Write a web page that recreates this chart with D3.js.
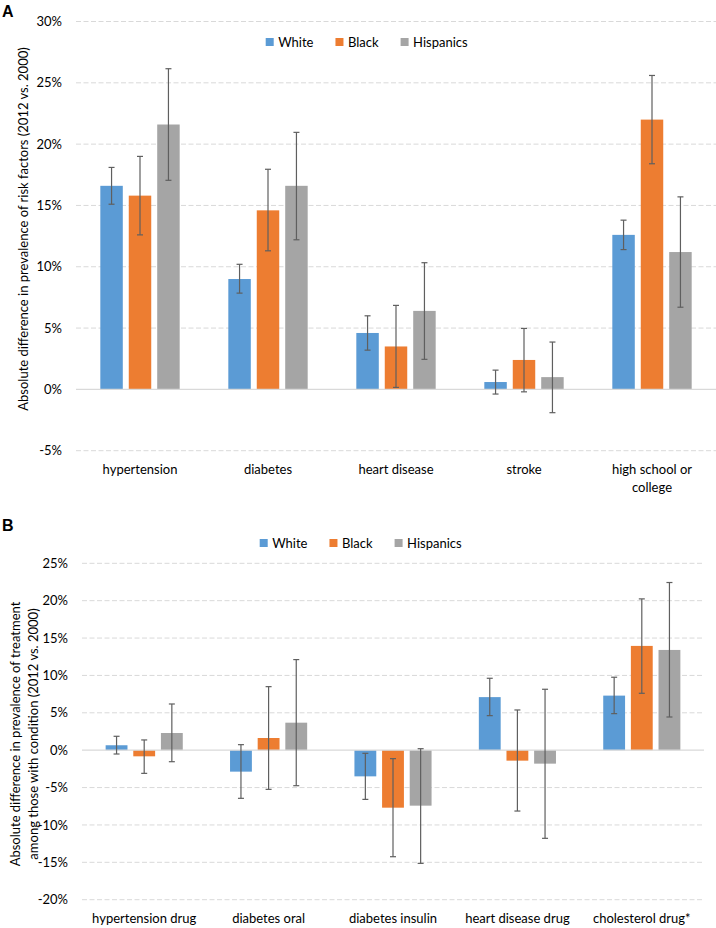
<!DOCTYPE html>
<html>
<head>
<meta charset="utf-8">
<script src="https://cdn.jsdelivr.net/npm/d3@7"></script>
<style>
  html, body { margin: 0; padding: 0; background: #fff; }
  svg { display: block; font-family: Lato, "Open Sans", sans-serif; }
</style>
</head>
<body>
<svg id="chart" width="716" height="928"></svg>
<script>
// ---------- DATA ----------
const seriesNames = ["White", "Black", "Hispanics"];
const seriesColors = ["#5B9BD5", "#ED7D31", "#A5A5A5"];

// Panel A
const categoriesA = ["hypertension", "diabetes", "heart disease", "stroke", "high school or\ncollege"];
const whiteA    = [16.6, 9.0, 4.6, 0.6, 12.6];
const whiteALo  = [15.1, 7.85, 3.2, -0.38, 11.4];
const whiteAHi  = [18.1, 10.2, 6.0, 1.57, 13.8];
const blackA    = [15.8, 14.6, 3.5, 2.4, 22.0];
const blackALo  = [12.6, 11.3, 0.16, -0.2, 18.4];
const blackAHi  = [19.0, 17.95, 6.85, 4.97, 25.6];
const hispA     = [21.6, 16.6, 6.4, 1.0, 11.2];
const hispALo   = [17.05, 12.2, 2.45, -1.9, 6.7];
const hispAHi   = [26.15, 20.96, 10.33, 3.86, 15.7];
const ticksA    = [-5, 0, 5, 10, 15, 20, 25, 30];

// Panel B
const categoriesB = ["hypertension drug", "diabetes oral", "diabetes insulin", "heart disease drug", "cholesterol drug*"];
const whiteB    = [0.66, -2.87, -3.5, 7.1, 7.3];
const whiteBLo  = [-0.51, -6.44, -6.58, 4.62, 4.89];
const whiteBHi  = [1.86, 0.74, -0.42, 9.62, 9.76];
const blackB    = [-0.82, 1.63, -7.69, -1.4, 13.95];
const blackBLo  = [-3.1, -5.24, -14.25, -8.14, 7.61];
const blackBHi  = [1.37, 8.5, -1.13, 5.38, 20.24];
const hispB     = [2.3, 3.68, -7.42, -1.8, 13.41];
const hispBLo   = [-1.54, -4.75, -15.14, -11.79, 4.44];
const hispBHi   = [6.18, 12.12, 0.2, 8.15, 22.43];
const ticksB    = [-20, -15, -10, -5, 0, 5, 10, 15, 20, 25];

// ---------- DRAW ----------
const svg = d3.select("#chart");
const FONT = 13;

function panel(cfg) {
  const g = svg.append("g");
  const x0 = d3.scaleBand().domain(cfg.categories).range([cfg.left, cfg.right])
    .paddingInner(1/3).paddingOuter(1/6);
  const x1 = d3.scaleBand().domain(seriesNames).range([0, x0.bandwidth()])
    .paddingInner(0.21).paddingOuter(0.105);
  const y = d3.scaleLinear().domain(cfg.domain).range([cfg.bottom, cfg.top]);

  // gridlines
  g.append("g").selectAll("line").data(cfg.ticks.filter(t => t !== 0)).join("line")
    .attr("x1", cfg.left).attr("x2", cfg.right)
    .attr("y1", d => y(d)).attr("y2", d => y(d))
    .attr("stroke", "#d9d9d9").attr("stroke-width", 1).attr("stroke-dasharray", "5,2.5");

  // y tick labels via axis
  const yAxis = d3.axisLeft(y).tickValues(cfg.ticks).tickFormat(d => d + "%").tickSize(0).tickPadding(14);
  const ya = g.append("g").attr("transform", `translate(${cfg.left},0)`).call(yAxis);
  ya.select(".domain").remove();
  ya.selectAll("text").attr("font-size", FONT).attr("fill", "#000").attr("font-family", "Lato");

  // bars
  const seriesData = cfg.series.map((s, i) => ({ name: seriesNames[i], color: seriesColors[i], ...s }));
  seriesData.forEach(s => {
    const sg = g.append("g");
    sg.selectAll("rect").data(cfg.categories.map((c, j) => ({ c, v: s.values[j] }))).join("rect")
      .attr("x", d => x0(d.c) + x1(s.name))
      .attr("width", x1.bandwidth())
      .attr("y", d => Math.min(y(d.v), y(0)))
      .attr("height", d => Math.abs(y(d.v) - y(0)))
      .attr("fill", s.color);
  });

  // zero line
  g.append("line").attr("x1", cfg.left).attr("x2", cfg.right)
    .attr("y1", y(0)).attr("y2", y(0)).attr("stroke", "#d9d9d9").attr("stroke-width", 1.2);

  // error bars
  seriesData.forEach(s => {
    const eg = g.append("g").attr("stroke", "#5f5f5f").attr("stroke-width", 1.2);
    cfg.categories.forEach((c, j) => {
      const cx = x0(c) + x1(s.name) + x1.bandwidth() / 2;
      const lo = y(s.lo[j]), hi = y(s.hi[j]);
      eg.append("line").attr("x1", cx).attr("x2", cx).attr("y1", lo).attr("y2", hi);
      eg.append("line").attr("x1", cx - 3).attr("x2", cx + 3).attr("y1", lo).attr("y2", lo);
      eg.append("line").attr("x1", cx - 3).attr("x2", cx + 3).attr("y1", hi).attr("y2", hi);
    });
  });

  // category axis
  const xAxis = d3.axisBottom(x0).tickSize(0).tickPadding(0).tickFormat("");
  const xa = g.append("g").attr("transform", `translate(0,${cfg.bottom})`).call(xAxis);
  xa.select(".domain").remove();
  xa.selectAll(".tick").each(function(d) {
    const lines = d.split("\n");
    const t = d3.select(this).append("text")
      .attr("font-size", FONT).attr("fill", "#000").attr("text-anchor", "middle")
      .attr("font-family", "Lato");
    lines.forEach((ln, k) => {
      t.append("tspan").attr("x", 0).attr("y", 19 + k * 18).attr("dy", "0.35em").text(ln);
    });
  });

  // y title
  const titleLines = cfg.title;
  const tg = g.append("text").attr("font-size", FONT).attr("fill", "#000").attr("text-anchor", "middle")
    .attr("font-family", "Lato")
    .attr("transform", `translate(0,${cfg.titleY}) rotate(-90)`);
  titleLines.forEach((ln, k) => {
    tg.append("tspan").attr("x", 0).attr("y", cfg.titleX[k]).attr("dy", "0.35em").text(ln);
  });

  // panel letter
  g.append("text").attr("x", 2).attr("y", cfg.letterY).attr("font-size", 16).attr("font-weight", "bold")
    .attr("font-family", "Liberation Sans, Arial").text(cfg.letter);

  // legend
  const lg = g.append("g");
  let lx = cfg.legendX;
  seriesNames.forEach((n, i) => {
    lg.append("rect").attr("x", lx).attr("y", cfg.legendY - 4).attr("width", 8).attr("height", 8)
      .attr("fill", seriesColors[i]);
    const t = lg.append("text").attr("x", lx + 12.5).attr("y", cfg.legendY).attr("dy", "0.35em")
      .attr("font-size", FONT).attr("font-family", "Lato").attr("fill", "#000").text(n);
    lx += 12.5 + t.node().getComputedTextLength() + 22;
  });
}

panel({
  letter: "A", letterY: 17,
  categories: categoriesA,
  series: [
    { values: whiteA, lo: whiteALo, hi: whiteAHi },
    { values: blackA, lo: blackALo, hi: blackAHi },
    { values: hispA, lo: hispALo, hi: hispAHi }
  ],
  domain: [-5, 30], ticks: ticksA,
  left: 76, right: 716, top: 21.5, bottom: 450.7,
  title: ["Absolute difference in prevalence of risk factors (2012 vs. 2000)"],
  titleX: [23], titleY: 229,
  legendX: 265.7, legendY: 42
});

panel({
  letter: "B", letterY: 531,
  categories: categoriesB,
  series: [
    { values: whiteB, lo: whiteBLo, hi: whiteBHi },
    { values: blackB, lo: blackBLo, hi: blackBHi },
    { values: hispB, lo: hispBLo, hi: hispBHi }
  ],
  domain: [-20, 25], ticks: ticksB,
  left: 82, right: 704, top: 563.3, bottom: 899.7,
  title: ["Absolute difference in prevalence of treatment", "among those with condition (2012 vs. 2000)"],
  titleX: [15, 33], titleY: 734,
  legendX: 259.7, legendY: 543
});
</script>
</body>
</html>
